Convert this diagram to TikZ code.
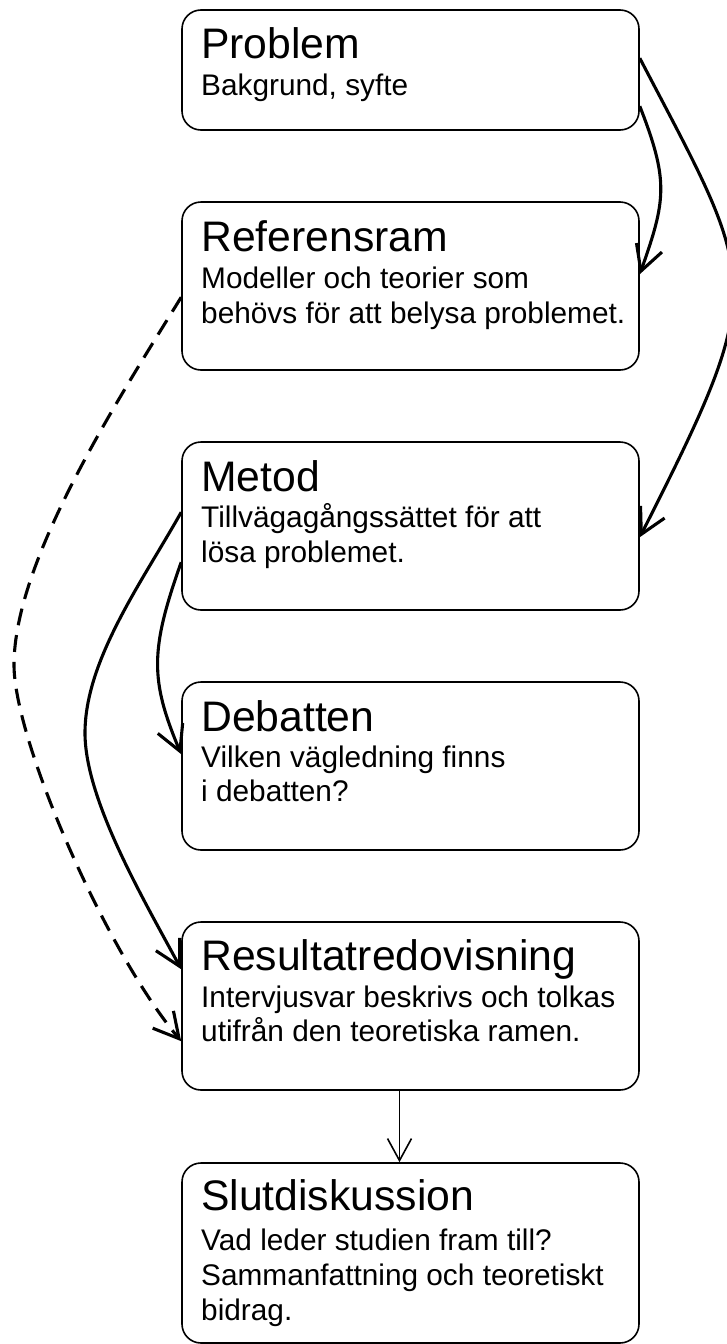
\documentclass[tikz,border=0pt]{standalone}
\usepackage{fontspec}
\setmainfont{Liberation Sans}
\usetikzlibrary{arrows.meta,calc}
\begin{document}
\begin{tikzpicture}[x=1pt,y=-1pt,
  box/.style={draw, line width=1.6pt, rounded corners=19pt, rectangle, minimum width=457pt, inner sep=0pt},
  ttl/.style={anchor=base west, inner sep=0pt, font=\fontsize{42.7}{50}\selectfont},
  txt/.style={anchor=base west, inner sep=0pt, font=\fontsize{29.8}{35}\selectfont},
  thickarrow/.style={line width=3.1pt, -{Straight Barb[length=25pt, width=27pt]}},
  thinarrow/.style={line width=1.6pt, -{Straight Barb[length=22pt, width=24pt]}}
]
\useasboundingbox (0,0) rectangle (726,1344);

% boxes
\node[box, minimum height=120pt] (p) at (410.5,70) {};
\node[box, minimum height=168pt] (r) at (410.5,286) {};
\node[box, minimum height=168pt] (m) at (410.5,526) {};
\node[box, minimum height=168pt] (d) at (410.5,766) {};
\node[box, minimum height=168pt] (res) at (410.5,1006) {};
\node[box, minimum height=180pt] (s) at (410.5,1253) {};

% texts
\node[ttl] (pt) at (201,58) {Problem};
\node[txt] (pb) at (201,95) {Bakgrund, syfte};

\node[ttl] (rt) at (201,251) {Referensram};
\node[txt] (rb1) at (201,288) {Modeller och teorier som};
\node[txt] (rb2) at (201,323) {behövs för att belysa problemet.};

\node[ttl] (mt) at (201,491) {Metod};
\node[txt] (mb1) at (201,527) {Tillvägagångssättet för att};
\node[txt] (mb2) at (201,562) {lösa problemet.};

\node[ttl] (dt) at (201,731) {Debatten};
\node[txt] (db1) at (201,767) {Vilken vägledning finns};
\node[txt] (db2) at (201,801) {i debatten?};

\node[ttl] (rest) at (201,970) {Resultatredovisning};
\node[txt] (resb1) at (201,1007) {Intervjusvar beskrivs och tolkas};
\node[txt] (resb2) at (201,1041) {utifrån den teoretiska ramen.};

\node[ttl] (st) at (201,1210) {Slutdiskussion};
\node[txt] (sb1) at (201,1250) {Vad leder studien fram till?};
\node[txt] (sb2) at (201,1285) {Sammanfattning och teoretiskt};
\node[txt] (sb3) at (201,1320) {bidrag.};

% helper coordinates
\coordinate (dmid) at (14,665);
\coordinate (cmid) at (85,733);

% connectors
\draw[thickarrow] ($(p.north east)+(0,97)$) .. controls (669,181) and (666,200) .. ($(r.north east)+(0,73)$);
\draw[thickarrow] ($(p.north east)+(0,49)$) .. controls (758,285) and (770,280) .. ($(m.north east)+(0,96)$);
\draw[thickarrow, dash pattern=on 17pt off 10pt] ($(r.north west)+(0,96)$) .. controls (119,398) and (14,560) .. (dmid)
   .. controls (14,740) and (105,950) .. ($(res.north west)+(0,120)$);
\draw[thickarrow] ($(m.north west)+(0,71)$) .. controls (142,582) and (85,660) .. (cmid)
   .. controls (85,800) and (144,900) .. ($(res.north west)+(0,48)$);
\draw[thickarrow] ($(m.north west)+(0,121)$) .. controls (150,650) and (150,680) .. ($(d.north west)+(0,73)$);
\draw[thinarrow] ($(res.south)+(-11,0)$) -- ($(s.north)+(-11,0)$);
\end{tikzpicture}
\end{document}
